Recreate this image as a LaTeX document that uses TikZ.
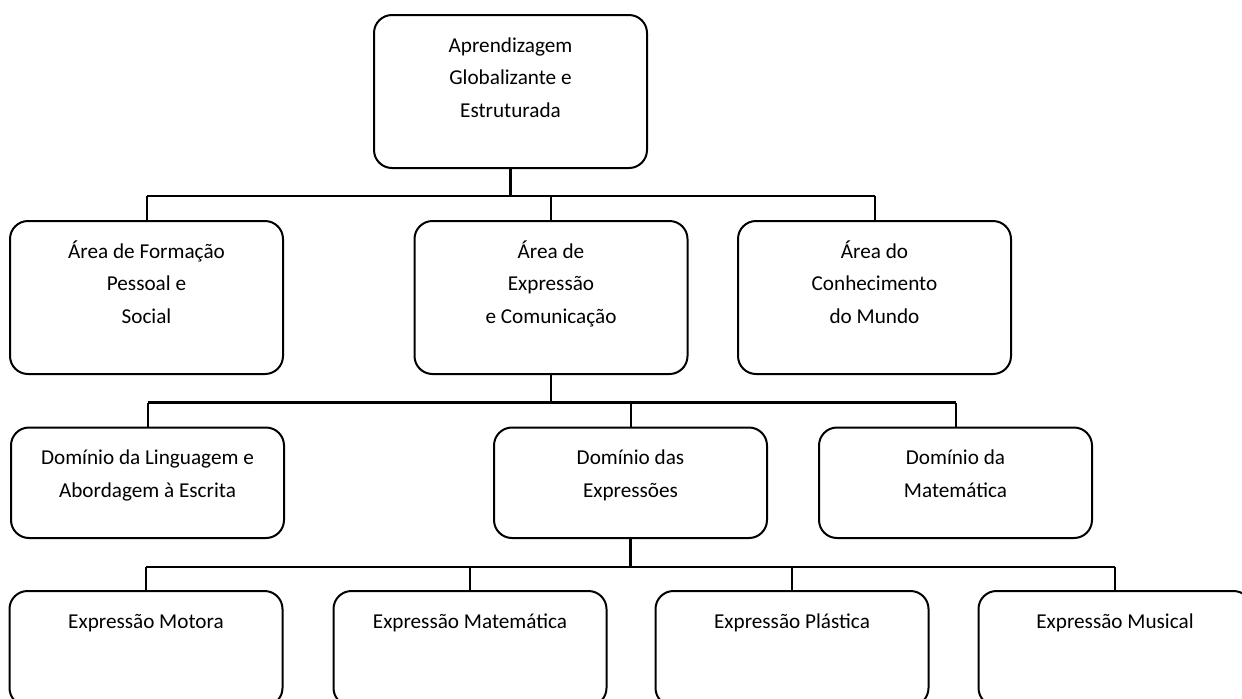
\documentclass[tikz,border=0pt]{standalone}
\usepackage{fontspec}
\setmainfont{Carlito}
\begin{document}
\begin{tikzpicture}[x=0.5pt,y=-0.5pt,font=\fontsize{10.6}{16.25}\selectfont,
	box/.style={draw,line width=1pt,rounded corners=9pt,anchor=north,text width=136.5pt,align=flush center,inner sep=0pt,text height=18.5pt},
	tall/.style={box,text depth=58pt},
	mid/.style={box,text depth=36.75pt},
	low/.style={box,text depth=39pt},
	bus/.style={line width=1.4pt},
	drop/.style={line width=1pt}]
	\clip (0,0) rectangle (1242,698);
	\fill[white] (0,0) rectangle (1242,698);
	\node[tall] (apr) at (510.5,14) {Aprendizagem\\Globalizante e\\Estruturada};
	\node[tall] (formacao) at (146.5,220) {Área de Formação\\Pessoal e\\Social};
	\node[tall] (comunicacao) at (551,220) {Área de\\Expressão\\e Comunicação};
	\node[tall] (mundo) at (874.5,220) {Área do\\Conhecimento\\do Mundo};
	\node[mid] (linguagem) at (147.5,426.5) {Domínio da Linguagem e\\Abordagem à Escrita};
	\node[mid] (expressoes) at (630.5,426.5) {Domínio das\\Expressões};
	\node[mid] (matematica) at (955.5,426.5) {Domínio da\\Matemática};
	\node[low] (motora) at (146,590) {Expressão Motora};
	\node[low] (expmat) at (470,590) {Expressão Matemática};
	\node[low] (plastica) at (792,590) {Expressão Plástica};
	\node[low] (musical) at (1115,590) {Expressão Musical};
	\coordinate (b1) at (0,196);
	\coordinate (b2) at (0,402.5);
	\coordinate (b3) at (0,567);
	\draw[bus] (apr.south) -- (apr.south |- b1) (formacao.north |- b1) -- (mundo.north |- b1);
	\draw[bus] (comunicacao.south) -- (comunicacao.south |- b2) (linguagem.north |- b2) -- (matematica.north |- b2);
	\draw[bus] (expressoes.south) -- (expressoes.south |- b3) (motora.north |- b3) -- (musical.north |- b3);
	\foreach \n/\b in {formacao/b1,comunicacao/b1,mundo/b1,linguagem/b2,expressoes/b2,matematica/b2,motora/b3,expmat/b3,plastica/b3,musical/b3}
		\draw[drop] (\n.north) -- (\n.north |- \b);
\end{tikzpicture}
\end{document}
